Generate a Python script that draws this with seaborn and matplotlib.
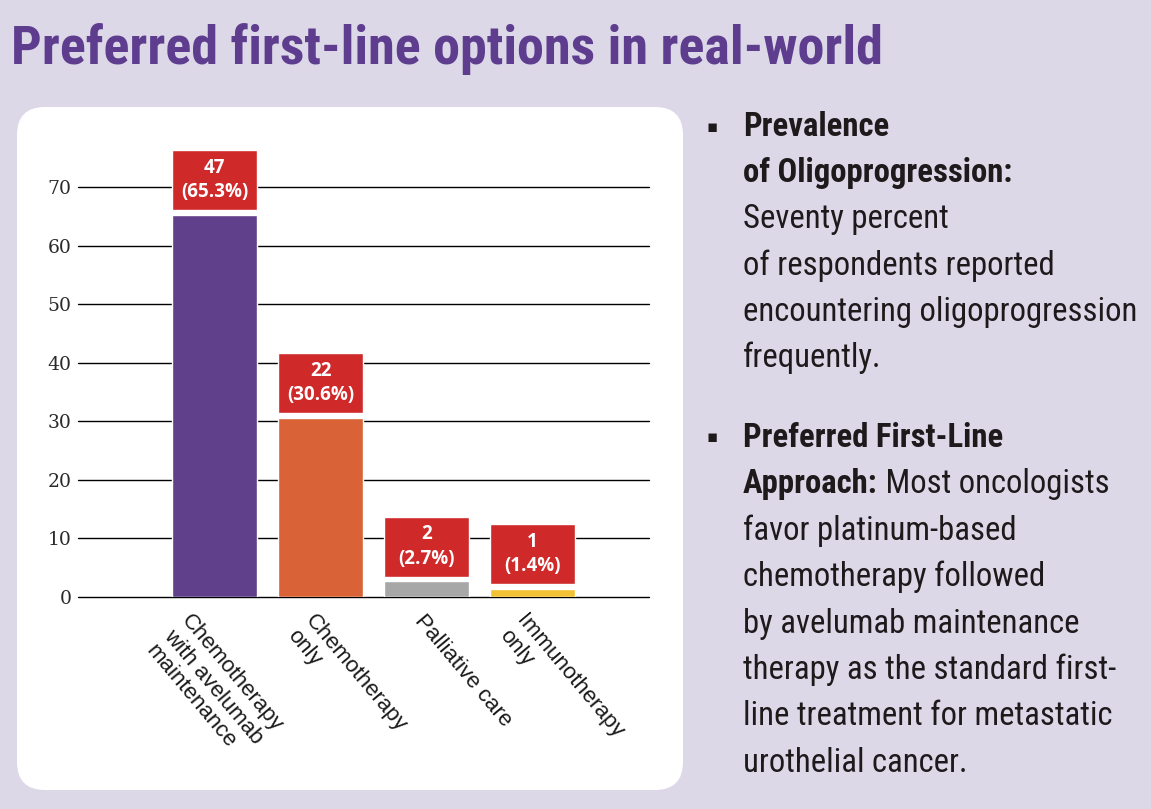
import numpy as np
import pandas as pd
import matplotlib
matplotlib.use("Agg")
import matplotlib.pyplot as plt
import matplotlib.transforms as mtransforms
from matplotlib import font_manager
from matplotlib.patches import FancyBboxPatch
import seaborn as sns

# ---- data ----
categories = ["Chemotherapy\nwith avelumab\nmaintenance", "Chemotherapy\nonly",
              "Palliative care", "Immunotherapy\nonly"]
percent = [65.3, 30.6, 2.7, 1.4]
counts = [47, 22, 2, 1]
bar_colors = ["#60408a", "#d96336", "#a7a7a7", "#f3c234"]
y_ticks = [0, 10, 20, 30, 40, 50, 60, 70]

title = "Preferred first-line options in real-world"
# each line is a list of (text, bold) pieces
block1 = [[("Prevalence", True)],
          [("of Oligoprogression:", True)],
          [("Seventy percent", False)],
          [("of respondents reported", False)],
          [("encountering oligoprogression", False)],
          [("frequently.", False)]]
block2 = [[("Preferred First-Line", True)],
          [("Approach:", True), (" Most oncologists", False)],
          [("favor platinum-based", False)],
          [("chemotherapy followed", False)],
          [("by avelumab maintenance", False)],
          [("therapy as the standard first-", False)],
          [("line treatment for metastatic", False)],
          [("urothelial cancer.", False)]]

# ---- fonts / colours ----
installed = {f.name for f in font_manager.fontManager.ttflist}


def pick(*names):
    for n in names:
        if n in installed:
            return n
    return "DejaVu Sans"


COND = pick("Roboto Condensed", "Liberation Sans Narrow", "Roboto")
SANS = pick("Liberation Sans", "DejaVu Sans")
LABEL = pick("Open Sans", "DejaVu Sans")
SERIF = pick("DejaVu Serif", "Liberation Serif")

bg = "#dcd8e8"
purple = "#5e3d8e"
red = "#d0292a"
ink = "#1e1a1c"

W, H = 1151, 809
sns.set_theme(style="white")
fig = plt.figure(figsize=(W / 100, H / 100), dpi=100)
fig.patch.set_facecolor(bg)


def fx(x):
    return x / W


def fy(y):
    return 1 - y / H


# white rounded panel behind the chart
panel = FancyBboxPatch((0.17, (H - 790) / 100), 6.66, 6.83,
                       boxstyle="round,pad=0,rounding_size=0.28",
                       transform=fig.dpi_scale_trans, fc="white", ec="none",
                       zorder=-5)
fig.add_artist(panel)

# ---- bar chart ----
ax = fig.add_axes([fx(78), (H - 597) / H, 571 / W, 80 * 5.857 / H])
ax.set_facecolor("none")

df = pd.DataFrame({"option": categories, "pct": percent, "n": counts})
sns.barplot(data=df, x="option", y="pct", hue="option", palette=bar_colors,
            width=0.8, saturation=1, legend=False, ax=ax, zorder=2)

# red label boxes sitting above each bar
gap, box_h = 0.8, 10.2
xs = np.arange(len(categories))
ax.bar(xs, box_h, bottom=df["pct"] + gap, width=0.8, color=red, zorder=3)
for i, row in df.iterrows():
    ax.text(i, row.pct + gap + box_h / 2, f"{row.n}\n({row.pct}%)",
            ha="center", va="center", color="white", fontweight="bold",
            fontsize=13.5, family=LABEL, linespacing=1.3, zorder=4)

ax.set_ylim(0, 80)
ax.set_xlim(-1.29, 4.10)
ax.set_yticks(y_ticks)
ax.grid(axis="y", color="black", lw=1)
ax.grid(axis="x", visible=False)
ax.set_axisbelow(True)
for gl in ax.get_ygridlines():
    gl.set_clip_on(False)
for s in ax.spines.values():
    s.set_visible(False)
ax.set_xlabel("")
ax.set_ylabel("")
ax.tick_params(axis="both", length=0)
ax.tick_params(axis="y", pad=4.5)
ax.tick_params(axis="x", pad=10)
for lab in ax.get_yticklabels():
    lab.set_fontfamily(SERIF)
    lab.set_fontsize(13.5)
    lab.set_color("#2a2a2a")

ax.set_xticks(xs)
ax.set_xticklabels(categories, rotation=-50, ha="left", va="top",
                   rotation_mode="anchor", fontsize=16, family=SANS,
                   color="#1a1a1a", linespacing=1.12)
x_shift = [-22, -4, 0, -4]
for lab, dx in zip(ax.get_xticklabels(), x_shift):
    lab.set_transform(lab.get_transform() +
                      mtransforms.ScaledTranslation(dx / 100, 0, fig.dpi_scale_trans))

# ---- title ----
renderer = fig.canvas.get_renderer()


def fit(t, target):
    w = t.get_window_extent(renderer).width
    t.set_fontsize(t.get_fontsize() * target / w)


tt = fig.text(fx(11), fy(64), title, ha="left", va="baseline", color=purple,
              fontsize=44, fontweight="bold", family=COND)
fit(tt, 873)

# ---- side text ----
probe = fig.text(0, 0, "encountering oligoprogression", fontsize=22, family=COND)
fit(probe, 395)
body_size = probe.get_fontsize()
probe.remove()


def write_block(lines, y0, step):
    for k, pieces in enumerate(lines):
        x = fx(743)
        y = fy(y0 + k * step)
        for txt, bold in pieces:
            t = fig.text(x, y, txt, ha="left", va="baseline", color=ink,
                         fontsize=body_size, family=COND,
                         fontweight="bold" if bold else "normal")
            bb = t.get_window_extent(renderer)
            x = bb.x1 / W


write_block(block1, 136, 46.2)
write_block(block2, 447, 46.4)
for yb in (127, 437):
    fig.text(fx(712), fy(yb), "\u25aa", ha="center", va="center", color=ink,
             fontsize=12, family="DejaVu Sans")

fig.savefig("out.png", dpi=100, facecolor=fig.get_facecolor())
